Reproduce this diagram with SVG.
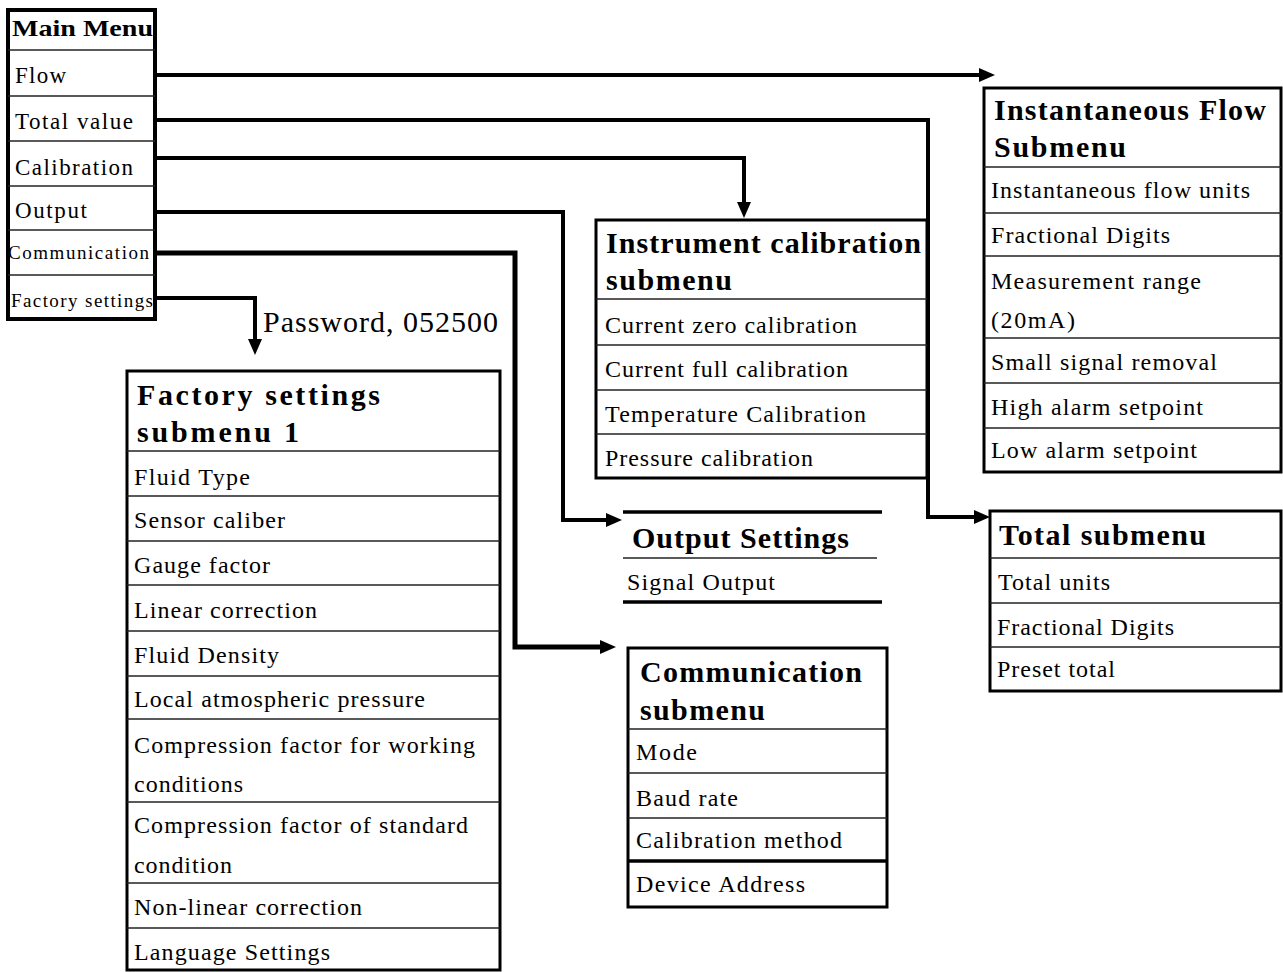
<svg xmlns="http://www.w3.org/2000/svg" width="1283" height="972" viewBox="0 0 1283 972">
<style>
.box{fill:#fff;stroke:#000;stroke-width:3}
.sep{stroke:#222;stroke-width:1.5}
.thick{stroke:#000;stroke-width:3.5}
.t{font-family:"Liberation Serif","Times New Roman",serif;font-size:24px;fill:#000}
.m{font-size:23px}
.s{font-size:19px}
.b{font-weight:bold;font-size:30px}
.conn{fill:none;stroke:#000;stroke-width:4;stroke-linejoin:miter}
</style>
<defs>
<marker id="arr" markerUnits="userSpaceOnUse" markerWidth="16" markerHeight="14" refX="2" refY="7" orient="auto">
<path d="M0,0 L16,7 L0,14 z" fill="#000"/>
</marker>
</defs>
<rect width="1283" height="972" fill="#fff"/>

<g id="connectors">
<path class="conn" d="M156,75 H981" marker-end="url(#arr)"/>
<path class="conn" d="M156,120 H928 V517 H976" marker-end="url(#arr)"/>
<path class="conn" d="M156,158 H744 V204" marker-end="url(#arr)"/>
<path class="conn" d="M156,212 H563 V520 H608" marker-end="url(#arr)"/>
<path class="conn" d="M156,253 H515 V647 H602" marker-end="url(#arr)" style="stroke-width:5"/>
<path class="conn" d="M156,298 H255 V341" marker-end="url(#arr)"/>
<text class="t" x="263" y="332" style="font-size:30px" textLength="235" lengthAdjust="spacing">Password, 052500</text>
</g>

<g id="main-menu">
<rect class="box" x="8" y="10" width="147" height="309" style="stroke-width:4"/>
<line class="sep" x1="8" y1="50" x2="155" y2="50"/>
<line class="sep" x1="8" y1="96" x2="155" y2="96"/>
<line class="sep" x1="8" y1="141" x2="155" y2="141"/>
<line class="sep" x1="8" y1="186" x2="155" y2="186"/>
<line class="sep" x1="8" y1="230" x2="155" y2="230"/>
<line class="sep" x1="8" y1="275" x2="155" y2="275"/>
<text class="t" x="12" y="36" style="font-weight:bold;font-size:24px" textLength="141" lengthAdjust="spacingAndGlyphs">Main Menu</text>
<text class="t m" x="15" y="83" textLength="51" lengthAdjust="spacing">Flow</text>
<text class="t m" x="15" y="129" textLength="118" lengthAdjust="spacing">Total value</text>
<text class="t m" x="15" y="175" textLength="118" lengthAdjust="spacing">Calibration</text>
<text class="t m" x="15" y="218" textLength="72" lengthAdjust="spacing">Output</text>
<text class="t s" x="8" y="259" textLength="141" lengthAdjust="spacing">Communication</text>
<text class="t s" x="11" y="307" textLength="142" lengthAdjust="spacing">Factory settings</text>
</g>

<g id="instrument-calibration">
<rect class="box" x="596" y="220" width="331" height="258"/>
<line class="sep" x1="596" y1="299" x2="927" y2="299"/>
<line class="sep" x1="596" y1="345" x2="927" y2="345"/>
<line class="sep" x1="596" y1="390" x2="927" y2="390"/>
<line class="sep" x1="596" y1="434" x2="927" y2="434"/>
<text class="t b" x="606" y="253" textLength="315" lengthAdjust="spacing">Instrument calibration</text>
<text class="t b" x="606" y="290" textLength="126" lengthAdjust="spacing">submenu</text>
<text class="t" x="605" y="333" textLength="252" lengthAdjust="spacing">Current zero calibration</text>
<text class="t" x="605" y="377" textLength="243" lengthAdjust="spacing">Current full calibration</text>
<text class="t" x="605" y="422" textLength="261" lengthAdjust="spacing">Temperature Calibration</text>
<text class="t" x="605" y="466" textLength="208" lengthAdjust="spacing">Pressure calibration</text>
</g>

<g id="instantaneous-flow">
<rect class="box" x="984" y="88" width="297" height="384"/>
<line class="sep" x1="984" y1="167" x2="1281" y2="167"/>
<line class="sep" x1="984" y1="213" x2="1281" y2="213"/>
<line class="sep" x1="984" y1="256" x2="1281" y2="256"/>
<line class="sep" x1="984" y1="338" x2="1281" y2="338"/>
<line class="sep" x1="984" y1="383" x2="1281" y2="383"/>
<line class="sep" x1="984" y1="428" x2="1281" y2="428"/>
<text class="t b" x="994" y="120" textLength="272" lengthAdjust="spacing">Instantaneous Flow</text>
<text class="t b" x="994" y="157" textLength="132" lengthAdjust="spacing">Submenu</text>
<text class="t" x="991" y="198" textLength="259" lengthAdjust="spacing">Instantaneous flow units</text>
<text class="t" x="991" y="243" textLength="179" lengthAdjust="spacing">Fractional Digits</text>
<text class="t" x="991" y="289" textLength="210" lengthAdjust="spacing">Measurement range</text>
<text class="t" x="991" y="328" textLength="84" lengthAdjust="spacing">(20mA)</text>
<text class="t" x="991" y="370" textLength="226" lengthAdjust="spacing">Small signal removal</text>
<text class="t" x="991" y="415" textLength="212" lengthAdjust="spacing">High alarm setpoint</text>
<text class="t" x="991" y="458" textLength="206" lengthAdjust="spacing">Low alarm setpoint</text>
</g>

<g id="total-submenu">
<rect class="box" x="990" y="511" width="291" height="180"/>
<line class="sep" x1="990" y1="558" x2="1281" y2="558"/>
<line class="sep" x1="990" y1="603" x2="1281" y2="603"/>
<line class="sep" x1="990" y1="647" x2="1281" y2="647"/>
<text class="t b" x="999" y="545" textLength="207" lengthAdjust="spacing">Total submenu</text>
<text class="t" x="998" y="590" textLength="112" lengthAdjust="spacing">Total units</text>
<text class="t" x="997" y="635" textLength="177" lengthAdjust="spacing">Fractional Digits</text>
<text class="t" x="997" y="677" textLength="118" lengthAdjust="spacing">Preset total</text>
</g>

<g id="output-settings">
<line class="thick" x1="623" y1="512" x2="882" y2="512"/>
<line class="sep" x1="623" y1="558" x2="877" y2="558"/>
<line class="thick" x1="623" y1="602" x2="882" y2="602"/>
<text class="t b" x="632" y="548" textLength="217" lengthAdjust="spacing">Output Settings</text>
<text class="t" x="627" y="590" textLength="148" lengthAdjust="spacing">Signal Output</text>
</g>

<g id="communication-submenu">
<rect class="box" x="628" y="648" width="259" height="259"/>
<line class="sep" x1="628" y1="729" x2="887" y2="729"/>
<line class="sep" x1="628" y1="773" x2="887" y2="773"/>
<line class="sep" x1="628" y1="818" x2="887" y2="818"/>
<line class="thick" x1="628" y1="861" x2="887" y2="861"/>
<text class="t b" x="640" y="682" textLength="222" lengthAdjust="spacing">Communication</text>
<text class="t b" x="640" y="720" textLength="125" lengthAdjust="spacing">submenu</text>
<text class="t" x="636" y="760" textLength="61" lengthAdjust="spacing">Mode</text>
<text class="t" x="636" y="806" textLength="102" lengthAdjust="spacing">Baud rate</text>
<text class="t" x="636" y="848" textLength="206" lengthAdjust="spacing">Calibration method</text>
<text class="t" x="636" y="892" textLength="169" lengthAdjust="spacing">Device Address</text>
</g>

<g id="factory-settings">
<rect class="box" x="127" y="371" width="373" height="599"/>
<line class="sep" x1="127" y1="451" x2="500" y2="451"/>
<line class="sep" x1="127" y1="496" x2="500" y2="496"/>
<line class="sep" x1="127" y1="541" x2="500" y2="541"/>
<line class="sep" x1="127" y1="585" x2="500" y2="585"/>
<line class="sep" x1="127" y1="631" x2="500" y2="631"/>
<line class="sep" x1="127" y1="676" x2="500" y2="676"/>
<line class="sep" x1="127" y1="719" x2="500" y2="719"/>
<line class="sep" x1="127" y1="802" x2="500" y2="802"/>
<line class="sep" x1="127" y1="883" x2="500" y2="883"/>
<line class="sep" x1="127" y1="928" x2="500" y2="928"/>
<text class="t b" x="137" y="405" textLength="243" lengthAdjust="spacing">Factory settings</text>
<text class="t b" x="137" y="442" textLength="162" lengthAdjust="spacing">submenu 1</text>
<text class="t" x="134" y="485" textLength="116" lengthAdjust="spacing">Fluid Type</text>
<text class="t" x="134" y="528" textLength="151" lengthAdjust="spacing">Sensor caliber</text>
<text class="t" x="134" y="573" textLength="136" lengthAdjust="spacing">Gauge factor</text>
<text class="t" x="134" y="618" textLength="183" lengthAdjust="spacing">Linear correction</text>
<text class="t" x="134" y="663" textLength="145" lengthAdjust="spacing">Fluid Density</text>
<text class="t" x="134" y="707" textLength="291" lengthAdjust="spacing">Local atmospheric pressure</text>
<text class="t" x="134" y="753" textLength="341" lengthAdjust="spacing">Compression factor for working</text>
<text class="t" x="134" y="792" textLength="109" lengthAdjust="spacing">conditions</text>
<text class="t" x="134" y="833" textLength="334" lengthAdjust="spacing">Compression factor of standard</text>
<text class="t" x="134" y="873" textLength="98" lengthAdjust="spacing">condition</text>
<text class="t" x="134" y="915" textLength="228" lengthAdjust="spacing">Non-linear correction</text>
<text class="t" x="134" y="960" textLength="196" lengthAdjust="spacing">Language Settings</text>
</g>
</svg>
